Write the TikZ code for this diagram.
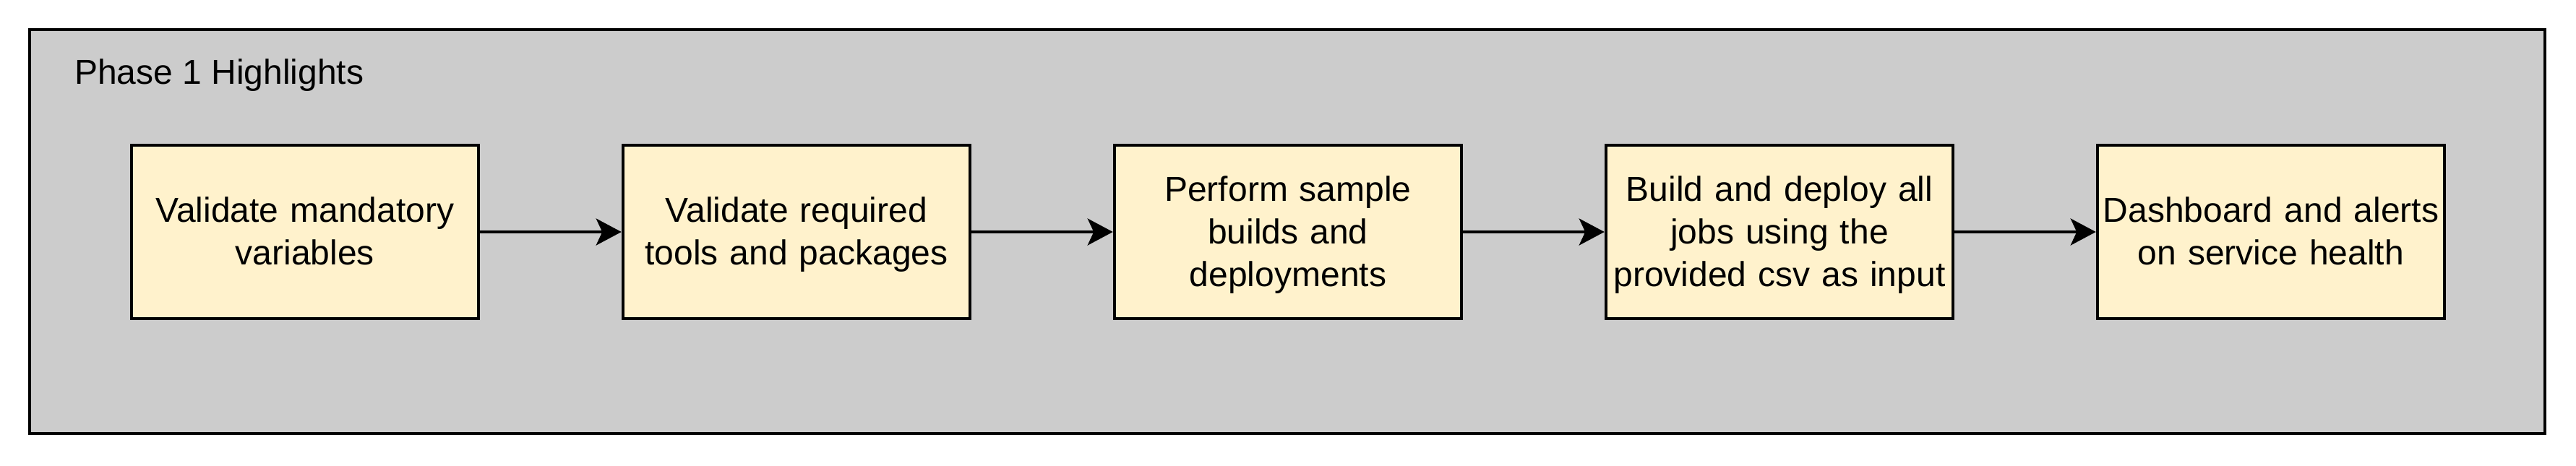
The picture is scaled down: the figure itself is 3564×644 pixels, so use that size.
\documentclass[tikz,border=0pt]{standalone}
\usepackage{fontspec}
\setmainfont{Liberation Sans}
\usetikzlibrary{arrows.meta}
\definecolor{groupfill}{HTML}{CCCCCC}
\definecolor{boxfill}{HTML}{FFF2CC}
\tikzset{
  group/.style={draw=black, line width=0.9pt, fill=groupfill},
  stepbox/.style={draw=black, line width=0.9pt, fill=boxfill, minimum width=96pt, minimum height=48pt,
    inner sep=0pt, align=center, font=\fontsize{9.6pt}{11.8pt}\selectfont, text width=94pt,
    execute at begin node={\rule{0pt}{10.06pt}}, execute at end node=\strut},
  flow/.style={draw=black, line width=0.8pt, -{Stealth[length=7pt, width=7.4pt, inset=1.7pt]}}
}
\begin{document}
\begin{tikzpicture}[x=0.2pt, y=-0.2pt]
\useasboundingbox (0,0) rectangle (3564,644);
\fill[white] (0,0) rectangle (3564,644);
\draw[group] (41,41) rectangle (3521,600);
\node[anchor=west, inner sep=0pt, font=\fontsize{9.6pt}{11.8pt}\selectfont] (title) at (102,104) {Phase 1 Highlights};
\node[stepbox] (s1) at (422,321) {Validate mandatory\\variables};
\node[stepbox] (s2) at (1102,321) {Validate required\\tools and packages};
\node[stepbox] (s3) at (1782,321) {Perform sample\\builds and\\deployments};
\node[stepbox] (s4) at (2462,321) {Build and deploy all\\jobs using the\\provided csv as input};
\node[stepbox] (s5) at (3142,321) {Dashboard and alerts\\on service health};
\draw[flow] (s1) -- (s2);
\draw[flow] (s2) -- (s3);
\draw[flow] (s3) -- (s4);
\draw[flow] (s4) -- (s5);
\end{tikzpicture}
\end{document}
